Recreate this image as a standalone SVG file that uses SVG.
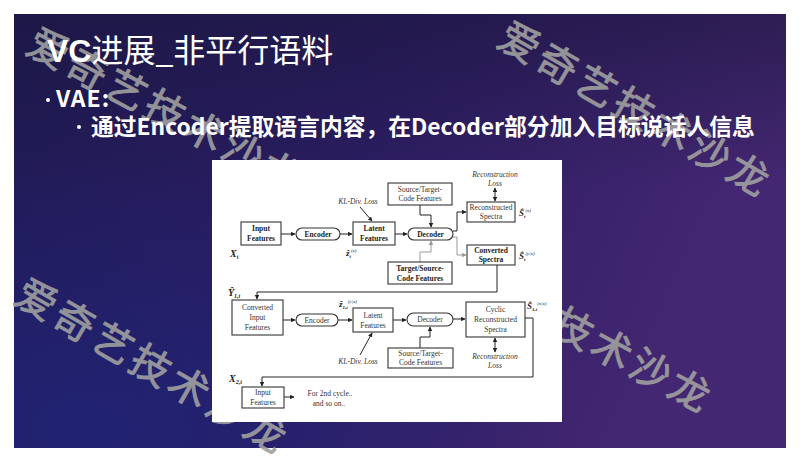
<svg xmlns="http://www.w3.org/2000/svg" width="800" height="464" viewBox="0 0 800 464">
<defs>
<linearGradient id="bg" x1="0" y1="0" x2="1" y2="0.25">
<stop offset="0" stop-color="#1f1b56"/>
<stop offset="0.5" stop-color="#2b1d62"/>
<stop offset="1" stop-color="#442772"/>
</linearGradient>
<radialGradient id="blue" cx="0.1" cy="0.95" r="0.6">
<stop offset="0" stop-color="#1f2478" stop-opacity="0.8"/>
<stop offset="1" stop-color="#1f2478" stop-opacity="0"/>
</radialGradient>
<linearGradient id="topdark" x1="0" y1="0" x2="0" y2="1">
<stop offset="0" stop-color="#1a1538" stop-opacity="0.5"/>
<stop offset="0.4" stop-color="#1a1538" stop-opacity="0"/>
</linearGradient>
<marker id="ah" viewBox="0 0 8 8" refX="7" refY="4" markerWidth="4.5" markerHeight="4.5" orient="auto-start-reverse" markerUnits="userSpaceOnUse">
<path d="M0,0 L8,4 L0,8 z" fill="#222"/>
</marker>
<marker id="ahg" viewBox="0 0 8 8" refX="7" refY="4" markerWidth="4.5" markerHeight="4.5" orient="auto-start-reverse" markerUnits="userSpaceOnUse">
<path d="M0,0 L8,4 L0,8 z" fill="#999"/>
</marker>
</defs>
<style>
.wm{font-family:"Noto Sans CJK SC","Noto Sans",sans-serif;font-size:40px;fill:#a0a0a0;stroke:#a0a0a0;stroke-width:0.9;opacity:0.9;letter-spacing:4px}
.box{fill:#fff;stroke:#333;stroke-width:1.1}
.t{font-family:"Liberation Serif",serif;font-size:7.5px;fill:#333;text-anchor:middle}
.b{font-weight:bold;fill:#222}
.i{font-style:italic}
.m{font-family:"Liberation Serif",serif;fill:#222;font-weight:bold;font-style:italic}
.ln{fill:none;stroke:#222;stroke-width:1}
.lg{fill:none;stroke:#999;stroke-width:1}
</style>
<rect width="800" height="464" fill="#fff"/>
<rect x="14" y="14" width="772" height="434" fill="url(#bg)"/>
<rect x="14" y="14" width="772" height="434" fill="url(#blue)"/>
<rect x="14" y="14" width="772" height="434" fill="url(#topdark)"/>

<g id="watermarks">
<text class="wm" transform="translate(24,52) rotate(28)">爱奇艺技术沙龙</text>
<text class="wm" transform="translate(495,45) rotate(30)">爱奇艺技术沙龙</text>
<text class="wm" transform="translate(12,302) rotate(30)">爱奇艺技术沙龙</text>
<text class="wm" transform="translate(432,270) rotate(28)">爱奇艺技术沙龙</text>
</g>

<g id="title">
<text x="47" y="62" font-family="'Noto Sans CJK SC','Noto Sans',sans-serif" font-size="32" fill="#fff"><tspan font-weight="bold" font-family="'Liberation Sans','Noto Sans CJK SC',sans-serif">VC</tspan>进展_非平行语料</text>
</g>
<g id="bullets" font-family="'Noto Sans CJK SC','Noto Sans',sans-serif" fill="#fff" font-weight="bold">
<circle cx="48" cy="100" r="2" fill="#fff"/>
<text x="56" y="107" font-size="23" letter-spacing="1">VAE:</text>
<circle cx="79" cy="127" r="2" fill="#fff"/>
<text x="91" y="135" font-size="22.8">通过Encoder提取语言内容，在Decoder部分加入目标说话人信息</text>
</g>

<rect id="figure-bg" x="212" y="160" width="350" height="262" fill="#fff"/>

<g id="connectors">
<path class="ln" d="M281,234 H295" marker-end="url(#ah)"/>
<path class="ln" d="M340,234 H352" marker-end="url(#ah)"/>
<path class="ln" d="M395,234 H407" marker-end="url(#ah)"/>
<path class="ln" d="M360,207 L372,221" marker-end="url(#ah)"/>
<path class="ln" d="M420,205 V215 H431 V227" marker-end="url(#ah)"/>
<path class="ln" d="M453,231 H457 V212 H466" marker-end="url(#ah)"/>
<path class="lg" d="M453,237 H457 V255 H466" marker-end="url(#ahg)"/>
<path class="lg" d="M420,262 V252 H431 V241" marker-end="url(#ahg)"/>
<path class="ln" d="M495,201 V188" marker-end="url(#ah)" marker-start="url(#ah)"/>
<path class="ln" d="M497,265 V292 H257 V299" marker-end="url(#ah)"/>
<path class="ln" d="M283,320 H295" marker-end="url(#ah)"/>
<path class="ln" d="M338,320 H352" marker-end="url(#ah)"/>
<path class="ln" d="M393,320 H406" marker-end="url(#ah)"/>
<path class="ln" d="M360,355 L372,333" marker-end="url(#ah)"/>
<path class="ln" d="M420,348 V337 H430 V327" marker-end="url(#ah)"/>
<path class="ln" d="M453,319 H465" marker-end="url(#ah)"/>
<path class="ln" d="M495,338 V352" marker-end="url(#ah)" marker-start="url(#ah)"/>
<path class="ln" d="M525,318 H533 V377 H262 V386" marker-end="url(#ah)"/>
<path class="ln" d="M284,397 H294" marker-end="url(#ah)"/>
</g>

<g id="in1"><rect class="box" x="241" y="222" width="40" height="23"/><text class="t b" x="261" y="231">Input</text><text class="t b" x="261" y="241">Features</text></g>
<g id="enc1"><rect class="box" x="296" y="228" width="44" height="12" rx="6"/><text class="t b" x="318" y="237">Encoder</text></g>
<g id="lat1"><rect class="box" x="353" y="222" width="42" height="23"/><text class="t b" x="374" y="231">Latent</text><text class="t b" x="374" y="241">Features</text></g>
<g id="dec1"><rect class="box" x="408" y="228" width="45" height="12" rx="6"/><text class="t b" x="430.5" y="237">Decoder</text></g>
<g id="stc1"><rect class="box" x="388" y="183" width="64" height="22"/><text class="t" x="420" y="192">Source/Target-</text><text class="t" x="420" y="201">Code Features</text></g>
<g id="tsc1"><rect class="box" x="388" y="262" width="64" height="22"/><text class="t b" x="420" y="271">Target/Source-</text><text class="t b" x="420" y="281">Code Features</text></g>
<g id="rec1"><rect class="box" x="467" y="202" width="48" height="20"/><text class="t" x="491" y="210">Reconstructed</text><text class="t" x="491" y="219">Spectra</text></g>
<g id="conv1"><rect class="box" x="467" y="245" width="48" height="20"/><text class="t b" x="491" y="253">Converted</text><text class="t b" x="491" y="262">Spectra</text></g>
<g id="cin"><rect class="box" x="232" y="300" width="51" height="35"/><text class="t" x="257.5" y="310">Converted</text><text class="t" x="257.5" y="320">Input</text><text class="t" x="257.5" y="330">Features</text></g>
<g id="enc2"><rect class="box" x="296" y="314" width="42" height="12" rx="6"/><text class="t" x="317" y="323">Encoder</text></g>
<g id="lat2"><rect class="box" x="353" y="308" width="40" height="24"/><text class="t" x="373" y="318">Latent</text><text class="t" x="373" y="328">Features</text></g>
<g id="dec2"><rect class="box" x="407" y="313" width="46" height="13" rx="6.5"/><text class="t" x="430" y="322">Decoder</text></g>
<g id="stc2"><rect class="box" x="388" y="348" width="65" height="20"/><text class="t" x="420.5" y="356">Source/Target-</text><text class="t" x="420.5" y="365">Code Features</text></g>
<g id="cyc"><rect class="box" x="466" y="302" width="59" height="35"/><text class="t" x="495.5" y="312">Cyclic</text><text class="t" x="495.5" y="322">Reconstructed</text><text class="t" x="495.5" y="332">Spectra</text></g>
<g id="in2"><rect class="box" x="242" y="387" width="42" height="21"/><text class="t" x="263" y="395">Input</text><text class="t" x="263" y="405">Features</text></g>

<g id="labels">
<text class="t i" x="358" y="204">KL-Div. Loss</text>
<text class="t i" x="358" y="364">KL-Div. Loss</text>
<text class="t i" x="495" y="177">Reconstruction</text>
<text class="t i" x="495" y="186">Loss</text>
<text class="t i" x="495" y="359">Reconstruction</text>
<text class="t i" x="495" y="368">Loss</text>
<text class="t" x="330" y="396">For 2nd cycle..</text>
<text class="t" x="329" y="406">and so on..</text>
<text class="m" x="230" y="257" font-size="10">X<tspan font-size="6" dy="2">t</tspan></text>
<text class="m" x="346" y="256" font-size="9">ẑ<tspan font-size="5" dy="2">t</tspan><tspan font-size="5" dy="-6" font-weight="normal">(x)</tspan></text>
<text class="m" x="519" y="216" font-size="9" font-style="normal">Ŝ<tspan font-size="5" dy="2" font-style="italic">t</tspan><tspan font-size="5" dy="-6" font-weight="normal" font-style="italic">(x)</tspan></text>
<text class="m" x="519" y="259" font-size="9" font-style="normal">Ŝ<tspan font-size="5" dy="2" font-style="italic">t</tspan><tspan font-size="5" dy="-6" font-weight="normal" font-style="italic">(y|x)</tspan></text>
<text class="m" x="228" y="296" font-size="10" font-style="normal">Ŷ<tspan font-size="6" dy="2" font-style="italic">1,t</tspan></text>
<text class="m" x="339" y="307" font-size="9">ẑ<tspan font-size="5" dy="2">1,t</tspan><tspan font-size="5" dy="-6" font-weight="normal">(y|x)</tspan></text>
<text class="m" x="527" y="309" font-size="9" font-style="normal">Ŝ<tspan font-size="5" dy="2" font-style="italic">1,t</tspan><tspan font-size="5" dy="-6" font-weight="normal" font-style="italic">(x|x)</tspan></text>
<text class="m" x="229" y="382" font-size="10">X<tspan font-size="6" dy="2">2,t</tspan></text>
</g>
</svg>
